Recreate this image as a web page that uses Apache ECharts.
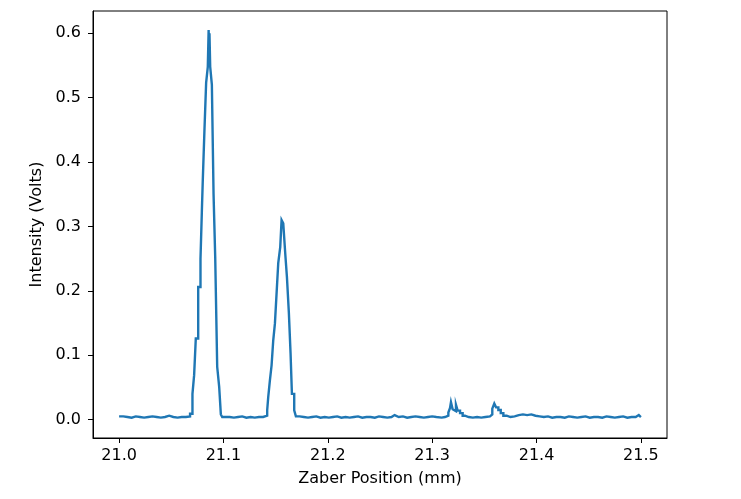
<!DOCTYPE html>
<html>
<head>
<meta charset="utf-8">
<script src="https://cdn.jsdelivr.net/npm/echarts@6/dist/echarts.min.js"></script>
<style>html,body{margin:0;padding:0;background:#fff;}#c{width:741px;height:499px;}</style>
</head>
<body>
<div id="c"></div>
<script>
// ---- data (Zaber position in mm, intensity in volts) ----
const baseAPos = [21.000,21.004,21.008,21.012,21.016,21.020,21.024,21.028,21.032,21.036,21.040,21.044,21.048,21.052,21.056,21.060,21.064,21.068];
const baseAVal = [0.005,0.004,0.003,0.005,0.004,0.003,0.004,0.005,0.004,0.003,0.004,0.006,0.004,0.003,0.004,0.004,0.005,0.009];
const peak1Pos = [21.0703,21.0719,21.0735,21.0758,21.0780,21.0793,21.0802,21.0818,21.0834,21.0850,21.0858,21.0862,21.0866,21.0873,21.0889,21.0905,21.0921,21.0940,21.0959,21.0975,21.0988];
const peak1Val = [0.040,0.069,0.126,0.206,0.250,0.323,0.372,0.450,0.523,0.548,0.605,0.575,0.600,0.548,0.520,0.351,0.253,0.082,0.051,0.008,0.004];
const baseBPos = [21.102,21.106,21.110,21.114,21.118,21.122,21.126,21.130,21.134,21.138];
const baseBVal = [0.004,0.003,0.004,0.005,0.003,0.004,0.003,0.004,0.004,0.006];
const peak2Pos = [21.1419,21.1429,21.1445,21.1461,21.1477,21.1493,21.1509,21.1525,21.1544,21.1557,21.1573,21.1592,21.1608,21.1627,21.1643,21.1656,21.1678,21.1694];
const peak2Val = [0.0145,0.035,0.061,0.084,0.123,0.149,0.196,0.243,0.268,0.310,0.305,0.258,0.222,0.165,0.103,0.040,0.0145,0.005];
const baseCPos = [21.173,21.177,21.181,21.185,21.189,21.193,21.197,21.201,21.205,21.209,21.213,21.217,21.221,21.225,21.229,21.233,21.237,21.241,21.245,21.249,21.253,21.257,21.261,21.264,21.268,21.272,21.276,21.280,21.284,21.288,21.292,21.296,21.300,21.304,21.3091];
const baseCVal = [0.004,0.003,0.004,0.005,0.003,0.004,0.003,0.004,0.005,0.003,0.004,0.003,0.004,0.005,0.003,0.004,0.004,0.003,0.005,0.004,0.003,0.004,0.007,0.004,0.005,0.003,0.004,0.005,0.004,0.003,0.004,0.005,0.004,0.003,0.004];
const bump1Pos = [21.3123,21.3155,21.3171,21.3180,21.3196,21.3209,21.3228,21.3244,21.3267,21.3292,21.3314];
const bump1Val = [0.006,0.011,0.018,0.027,0.016,0.013,0.023,0.014,0.010,0.006,0.004];
const baseDPos = [21.335,21.339,21.343,21.347,21.351];
const baseDVal = [0.003,0.004,0.003,0.004,0.005];
const bump2Pos = [21.3554,21.3576,21.3595,21.3612,21.3634,21.3657,21.3682,21.3714];
const bump2Val = [0.008,0.017,0.025,0.019,0.015,0.010,0.006,0.004];
const baseEPos = [21.375,21.379,21.383,21.387,21.391,21.395,21.399,21.403,21.407,21.411,21.415,21.419,21.423,21.427,21.431,21.435,21.439,21.443,21.447,21.451,21.455,21.459,21.463,21.467,21.471,21.475,21.479,21.483,21.487,21.491,21.495,21.498,21.500];
const baseEVal = [0.005,0.007,0.008,0.007,0.008,0.006,0.005,0.004,0.005,0.003,0.004,0.004,0.003,0.005,0.004,0.003,0.004,0.005,0.003,0.004,0.004,0.003,0.005,0.004,0.003,0.004,0.005,0.003,0.004,0.004,0.007,0.004,0.005];

const xTicks = [21.0, 21.1, 21.2, 21.3, 21.4, 21.5];
const yTicks = [0.0, 0.1, 0.2, 0.3, 0.4, 0.5, 0.6];

const positions = [].concat(baseAPos, peak1Pos, baseBPos, peak2Pos, baseCPos, bump1Pos, baseDPos, bump2Pos, baseEPos);
const intensities = [].concat(baseAVal, peak1Val, baseBVal, peak2Val, baseCVal, bump1Val, baseDVal, bump2Val, baseEVal);
const seriesData = positions.map((x, i) => [x, intensities[i]]);

const FONT = 'DejaVu Sans';
const chart = echarts.init(document.getElementById('c'), null, {renderer: 'canvas'});
chart.setOption({
  animation: false,
  backgroundColor: '#ffffff',
  grid: {left: 93, top: 11, width: 574, height: 427, show: true, borderColor: '#000', borderWidth: 1, backgroundColor: 'transparent'},
  xAxis: {
    type: 'value', min: 20.975, max: 21.525,
    name: 'Zaber Position (mm)', nameLocation: 'middle', nameGap: 33,
    nameTextStyle: {fontFamily: FONT, fontSize: 16, color: '#000'},
    axisLine: {show: true, onZero: false, lineStyle: {color: '#000', width: 1}},
    axisTick: {show: true, inside: false, length: 5, customValues: xTicks, lineStyle: {color: '#000', width: 1}},
    axisLabel: {show: true, customValues: xTicks, margin: 10, fontFamily: FONT, fontSize: 16, color: '#000', formatter: v => Number(v).toFixed(1)},
    splitLine: {show: false}
  },
  yAxis: {
    type: 'value', min: -0.0286, max: 0.6347,
    name: 'Intensity (Volts)', nameLocation: 'middle', nameGap: 43, nameRotate: 90,
    nameTextStyle: {fontFamily: FONT, fontSize: 16, color: '#000'},
    axisLine: {show: true, onZero: false, lineStyle: {color: '#000', width: 1}},
    axisTick: {show: true, inside: false, length: 5, customValues: yTicks, lineStyle: {color: '#000', width: 1}},
    axisLabel: {show: true, customValues: yTicks, margin: 12, fontFamily: FONT, fontSize: 16, color: '#000', formatter: v => Number(v).toFixed(1)},
    splitLine: {show: false}
  },
  series: [{
    type: 'line', data: seriesData, step: 'end', showSymbol: false,
    lineStyle: {color: '#1f77b4', width: 2.4, join: 'miter'}, itemStyle: {color: '#1f77b4'}
  }]
});
</script>
</body>
</html>
